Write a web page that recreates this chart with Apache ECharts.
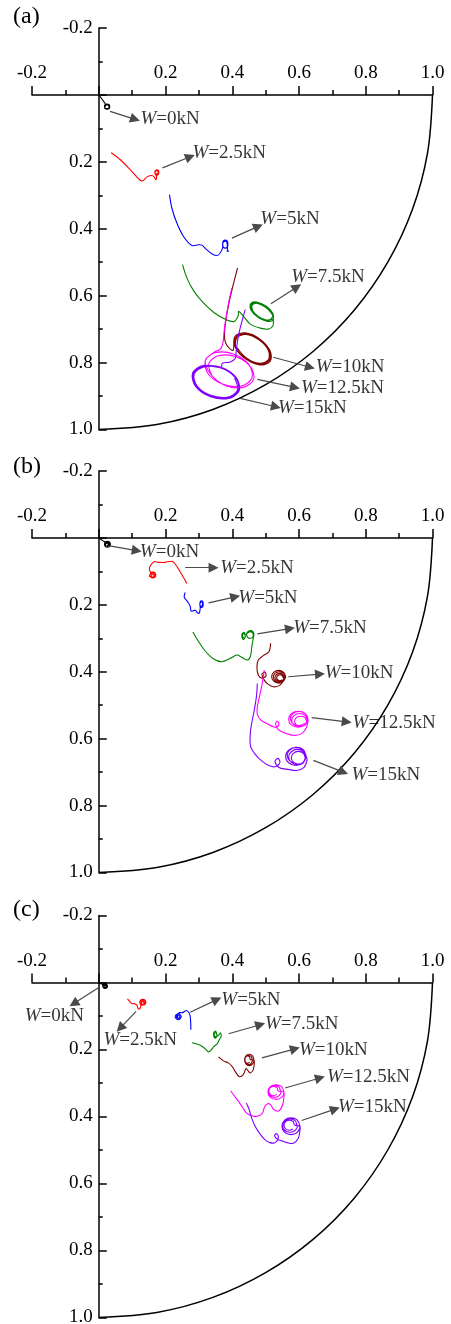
<!DOCTYPE html>
<html>
<head>
<meta charset="utf-8">
<script src="https://cdn.jsdelivr.net/npm/echarts@6/dist/echarts.min.js"></script>
<style>
  html, body { margin: 0; padding: 0; background: #fff; }
  #chart { width: 451px; height: 1324px; }
</style>
</head>
<body>
<div id="chart"></div>
<script>
// 载荷工况
const loads = ['0kN', '2.5kN', '5kN', '7.5kN', '10kN', '12.5kN', '15kN'];
const panelNames = ['(a)', '(b)', '(c)'];

// 单位圆弧（1/4）
const arc = [
  [1.000, 0.000], [0.985, 0.174], [0.940, 0.342], [0.866, 0.500], [0.766, 0.643],
  [0.643, 0.766], [0.500, 0.866], [0.342, 0.940], [0.174, 0.985], [0.000, 1.000]
];

// ---- (a) ----
const a_w0 = [
  [0.000, 0.000], [0.008, 0.010], [0.015, 0.020], [0.020, 0.028],
  [0.017, 0.035], [0.019, 0.041], [0.025, 0.043], [0.031, 0.041], [0.033, 0.035], [0.031, 0.029], [0.025, 0.027], [0.019, 0.029], [0.017, 0.035],
  [0.019, 0.039], [0.025, 0.041], [0.030, 0.039], [0.031, 0.035], [0.029, 0.031], [0.025, 0.029], [0.021, 0.031], [0.019, 0.035]
];
const a_w25 = [
  [0.037, 0.173], [0.064, 0.193], [0.094, 0.223], [0.124, 0.255], [0.133, 0.256], [0.145, 0.245], [0.159, 0.241],
  [0.166, 0.245], [0.171, 0.253], [0.173, 0.240],
  [0.168, 0.232], [0.170, 0.226], [0.174, 0.224], [0.179, 0.226], [0.180, 0.232], [0.178, 0.238], [0.174, 0.240], [0.170, 0.238],
  [0.168, 0.232], [0.171, 0.228], [0.175, 0.227], [0.178, 0.231], [0.176, 0.236], [0.172, 0.235]
];
const a_w5 = [
  [0.212, 0.298], [0.219, 0.338], [0.234, 0.383], [0.254, 0.423], [0.279, 0.450], [0.299, 0.448], [0.309, 0.449],
  [0.324, 0.463], [0.344, 0.478], [0.359, 0.478], [0.369, 0.463], [0.372, 0.450],
  [0.371, 0.446], [0.373, 0.437], [0.379, 0.434], [0.385, 0.437], [0.387, 0.446], [0.385, 0.455], [0.379, 0.458], [0.373, 0.455],
  [0.371, 0.446], [0.374, 0.439], [0.380, 0.437], [0.384, 0.441], [0.385, 0.450], [0.386, 0.462], [0.388, 0.468], [0.383, 0.466]
];
const a_w75 = [
  [0.251, 0.507], [0.265, 0.549], [0.286, 0.588], [0.313, 0.621], [0.346, 0.651], [0.382, 0.672], [0.406, 0.677],
  [0.418, 0.660], [0.419, 0.647], [0.434, 0.662], [0.454, 0.685], [0.484, 0.697], [0.508, 0.700], [0.522, 0.690],
  [0.523, 0.672], [0.522, 0.653], [0.501, 0.631], [0.473, 0.619], [0.455, 0.624], [0.456, 0.643], [0.477, 0.665], [0.505, 0.677], [0.523, 0.672],
  [0.517, 0.652], [0.499, 0.634], [0.476, 0.623], [0.460, 0.628], [0.461, 0.644], [0.479, 0.663], [0.502, 0.673], [0.518, 0.668],
  [0.520, 0.653], [0.500, 0.632], [0.474, 0.621], [0.457, 0.626], [0.458, 0.643], [0.478, 0.664], [0.504, 0.675], [0.521, 0.670]
];
const a_w10 = [
  [0.416, 0.517], [0.403, 0.567], [0.391, 0.618], [0.382, 0.666], [0.377, 0.708], [0.379, 0.738], [0.391, 0.757], [0.403, 0.763],
  [0.408, 0.722], [0.439, 0.711], [0.482, 0.729], [0.513, 0.764], [0.514, 0.796], [0.483, 0.807], [0.440, 0.789], [0.409, 0.754],
  [0.411, 0.724], [0.440, 0.714], [0.481, 0.730], [0.511, 0.763], [0.511, 0.794], [0.482, 0.804], [0.441, 0.788], [0.411, 0.755],
  [0.414, 0.726], [0.441, 0.716], [0.480, 0.732], [0.508, 0.763], [0.508, 0.792], [0.481, 0.802], [0.442, 0.786], [0.414, 0.755]
];
const a_w125 = [
  [0.399, 0.577], [0.389, 0.622], [0.382, 0.662], [0.376, 0.703], [0.372, 0.742], [0.365, 0.759], [0.343, 0.771],
  [0.319, 0.794], [0.328, 0.834], [0.373, 0.865], [0.427, 0.870], [0.459, 0.846], [0.450, 0.806], [0.405, 0.775], [0.351, 0.770], [0.319, 0.794],
  [0.339, 0.839], [0.381, 0.869], [0.433, 0.874], [0.464, 0.850], [0.455, 0.813], [0.413, 0.783], [0.361, 0.779], [0.330, 0.802], [0.339, 0.839]
];
const a_w15 = [
  [0.439, 0.642], [0.429, 0.677], [0.419, 0.717], [0.412, 0.763], [0.409, 0.787], [0.394, 0.798], [0.370, 0.802],
  [0.367, 0.814], [0.312, 0.809], [0.281, 0.832], [0.290, 0.871], [0.335, 0.902], [0.390, 0.907], [0.421, 0.884], [0.412, 0.845], [0.367, 0.814],
  [0.314, 0.811], [0.283, 0.833], [0.292, 0.870], [0.336, 0.900], [0.388, 0.905], [0.419, 0.883], [0.410, 0.846], [0.366, 0.816],
  [0.316, 0.813], [0.286, 0.834], [0.295, 0.870], [0.336, 0.898], [0.387, 0.903], [0.416, 0.882], [0.407, 0.846]
];

// ---- (b) ----
const b_w0 = [
  [0.000, 0.000], [0.006, 0.004], [0.012, 0.008], [0.018, 0.012],
  [0.017, 0.019], [0.020, 0.012], [0.026, 0.010], [0.032, 0.012], [0.035, 0.019], [0.032, 0.026], [0.026, 0.028], [0.020, 0.026], [0.017, 0.019],
  [0.020, 0.015], [0.026, 0.013], [0.031, 0.015], [0.032, 0.019], [0.030, 0.023], [0.026, 0.025], [0.021, 0.023], [0.020, 0.019],
  [0.023, 0.017], [0.026, 0.016], [0.029, 0.018], [0.028, 0.021], [0.025, 0.022]
];
const b_w25 = [
  [0.264, 0.136], [0.244, 0.101], [0.229, 0.078], [0.220, 0.070], [0.199, 0.073], [0.178, 0.073], [0.166, 0.071],
  [0.154, 0.084], [0.152, 0.096], [0.156, 0.104],
  [0.153, 0.111], [0.156, 0.104], [0.162, 0.102], [0.168, 0.104], [0.171, 0.111], [0.168, 0.118], [0.162, 0.120], [0.156, 0.118],
  [0.153, 0.111], [0.157, 0.107], [0.162, 0.105], [0.167, 0.108], [0.168, 0.112], [0.165, 0.116], [0.160, 0.117], [0.157, 0.114],
  [0.160, 0.109], [0.164, 0.110], [0.163, 0.113]
];
const b_w5 = [
  [0.259, 0.163], [0.256, 0.177], [0.265, 0.189], [0.274, 0.204], [0.277, 0.219], [0.289, 0.216], [0.295, 0.223],
  [0.301, 0.225], [0.304, 0.210],
  [0.303, 0.198], [0.304, 0.191], [0.308, 0.188], [0.312, 0.191], [0.313, 0.198], [0.312, 0.205], [0.308, 0.208], [0.304, 0.205],
  [0.303, 0.198], [0.306, 0.192], [0.310, 0.192], [0.311, 0.199], [0.309, 0.204], [0.306, 0.202]
];
const b_w75 = [
  [0.282, 0.281], [0.298, 0.308], [0.319, 0.338], [0.343, 0.361], [0.369, 0.370], [0.394, 0.360], [0.414, 0.350],
  [0.427, 0.356], [0.444, 0.365], [0.454, 0.355], [0.459, 0.323], [0.463, 0.299],
  [0.465, 0.289], [0.462, 0.280], [0.454, 0.277], [0.446, 0.281], [0.443, 0.289], [0.447, 0.298], [0.455, 0.300], [0.462, 0.296],
  [0.462, 0.286], [0.454, 0.280], [0.446, 0.284],
  [0.438, 0.290], [0.437, 0.283], [0.433, 0.283], [0.429, 0.288], [0.429, 0.296], [0.432, 0.303], [0.436, 0.302], [0.439, 0.295],
  [0.437, 0.287], [0.433, 0.286], [0.431, 0.292], [0.433, 0.299], [0.436, 0.297]
];
const b_w10 = [
  [0.515, 0.315], [0.510, 0.340], [0.493, 0.352], [0.478, 0.365], [0.474, 0.386], [0.478, 0.410], [0.489, 0.419],
  [0.501, 0.413], [0.498, 0.401], [0.489, 0.407], [0.496, 0.425], [0.507, 0.437], [0.523, 0.445], [0.543, 0.440], [0.558, 0.420],
  [0.560, 0.415], [0.554, 0.402], [0.539, 0.396], [0.524, 0.402], [0.518, 0.415], [0.524, 0.428], [0.539, 0.434], [0.554, 0.428], [0.560, 0.415],
  [0.559, 0.416], [0.554, 0.405], [0.541, 0.400], [0.528, 0.405], [0.523, 0.416], [0.528, 0.427], [0.541, 0.432], [0.554, 0.427], [0.559, 0.416],
  [0.556, 0.417], [0.552, 0.409], [0.542, 0.405], [0.532, 0.409], [0.528, 0.417], [0.532, 0.425], [0.542, 0.429], [0.552, 0.425], [0.556, 0.417],
  [0.553, 0.418], [0.550, 0.412], [0.543, 0.409], [0.536, 0.412], [0.533, 0.418], [0.536, 0.424], [0.543, 0.427], [0.550, 0.424]
];
const b_w125 = [
  [0.496, 0.395], [0.490, 0.434], [0.482, 0.473], [0.475, 0.506], [0.475, 0.527], [0.484, 0.543], [0.504, 0.555],
  [0.522, 0.564], [0.534, 0.566], [0.540, 0.554], [0.534, 0.548], [0.530, 0.557], [0.537, 0.572], [0.555, 0.582],
  [0.584, 0.590], [0.608, 0.585], [0.623, 0.565],
  [0.627, 0.542], [0.619, 0.525], [0.598, 0.518], [0.577, 0.525], [0.569, 0.542], [0.577, 0.559], [0.598, 0.566], [0.619, 0.559], [0.627, 0.542],
  [0.626, 0.545], [0.619, 0.531], [0.602, 0.525], [0.585, 0.531], [0.578, 0.545], [0.585, 0.559], [0.602, 0.565], [0.619, 0.559], [0.626, 0.545],
  [0.623, 0.548], [0.618, 0.537], [0.605, 0.533], [0.592, 0.537], [0.587, 0.548], [0.592, 0.559], [0.605, 0.563], [0.618, 0.559], [0.623, 0.548],
  [0.626, 0.540], [0.618, 0.525], [0.600, 0.519], [0.582, 0.525], [0.574, 0.540], [0.582, 0.555], [0.600, 0.561], [0.618, 0.555]
];
const b_w15 = [
  [0.475, 0.435], [0.473, 0.470], [0.467, 0.509], [0.460, 0.545], [0.454, 0.584], [0.455, 0.623], [0.469, 0.647],
  [0.490, 0.668], [0.513, 0.682], [0.531, 0.683], [0.543, 0.671], [0.537, 0.659], [0.528, 0.668], [0.540, 0.686],
  [0.563, 0.691], [0.593, 0.695], [0.615, 0.686], [0.624, 0.665],
  [0.622, 0.653], [0.613, 0.634], [0.591, 0.626], [0.569, 0.634], [0.560, 0.653], [0.569, 0.672], [0.591, 0.680], [0.613, 0.672], [0.622, 0.653],
  [0.621, 0.655], [0.613, 0.639], [0.595, 0.632], [0.577, 0.639], [0.569, 0.655], [0.577, 0.671], [0.595, 0.678], [0.613, 0.671], [0.621, 0.655],
  [0.619, 0.657], [0.613, 0.644], [0.598, 0.638], [0.583, 0.644], [0.577, 0.657], [0.583, 0.670], [0.598, 0.676], [0.613, 0.670], [0.619, 0.657],
  [0.621, 0.650], [0.613, 0.633], [0.593, 0.626], [0.573, 0.633], [0.565, 0.650], [0.573, 0.667], [0.593, 0.674]
];

// ---- (c) ----
const c_w0 = [
  [0.000, 0.000], [0.005, 0.003], [0.011, 0.006],
  [0.012, 0.011], [0.014, 0.006], [0.019, 0.004], [0.024, 0.006], [0.026, 0.011], [0.024, 0.016], [0.019, 0.018], [0.014, 0.016],
  [0.012, 0.011], [0.015, 0.008], [0.019, 0.007], [0.023, 0.009], [0.023, 0.013], [0.019, 0.015], [0.016, 0.013], [0.018, 0.010], [0.021, 0.011]
];
const c_w25 = [
  [0.086, 0.049], [0.099, 0.063], [0.106, 0.063], [0.114, 0.067], [0.118, 0.078], [0.123, 0.079], [0.126, 0.069], [0.128, 0.062],
  [0.123, 0.059], [0.126, 0.052], [0.132, 0.050], [0.138, 0.052], [0.141, 0.059], [0.138, 0.066], [0.132, 0.068], [0.126, 0.066],
  [0.123, 0.059], [0.127, 0.055], [0.132, 0.053], [0.137, 0.056], [0.137, 0.062], [0.132, 0.065], [0.128, 0.062], [0.130, 0.057],
  [0.134, 0.058], [0.133, 0.061]
];
const c_w5 = [
  [0.276, 0.141], [0.275, 0.111], [0.272, 0.093], [0.264, 0.084], [0.259, 0.085], [0.251, 0.090], [0.242, 0.090],
  [0.238, 0.093], [0.232, 0.096], [0.229, 0.102], [0.232, 0.108], [0.238, 0.111], [0.244, 0.108], [0.247, 0.102], [0.244, 0.096],
  [0.238, 0.093], [0.234, 0.098], [0.233, 0.103], [0.237, 0.107], [0.242, 0.106], [0.243, 0.101], [0.239, 0.098], [0.236, 0.102], [0.239, 0.104]
];
const c_w75 = [
  [0.279, 0.180], [0.292, 0.183], [0.307, 0.189], [0.319, 0.198], [0.329, 0.207], [0.337, 0.201], [0.344, 0.192],
  [0.355, 0.183], [0.361, 0.171], [0.367, 0.160], [0.364, 0.150], [0.358, 0.159],
  [0.354, 0.156], [0.352, 0.148], [0.349, 0.146], [0.345, 0.149], [0.344, 0.156], [0.346, 0.164], [0.349, 0.166], [0.353, 0.163],
  [0.354, 0.156], [0.351, 0.150], [0.347, 0.151], [0.346, 0.158], [0.349, 0.163], [0.352, 0.160]
];
const c_w10 = [
  [0.359, 0.222], [0.374, 0.234], [0.388, 0.240], [0.400, 0.251], [0.409, 0.266], [0.421, 0.281], [0.433, 0.275],
  [0.441, 0.257], [0.447, 0.263], [0.454, 0.270], [0.463, 0.260], [0.466, 0.242],
  [0.465, 0.231], [0.461, 0.219], [0.451, 0.214], [0.441, 0.219], [0.437, 0.231], [0.441, 0.243], [0.451, 0.248], [0.461, 0.243], [0.465, 0.231],
  [0.460, 0.231], [0.457, 0.221], [0.449, 0.217], [0.441, 0.221], [0.438, 0.231], [0.441, 0.241], [0.449, 0.245], [0.457, 0.241], [0.460, 0.231],
  [0.454, 0.230], [0.452, 0.222], [0.446, 0.219], [0.440, 0.222], [0.438, 0.230], [0.440, 0.238], [0.446, 0.241], [0.452, 0.238]
];
const c_w125 = [
  [0.395, 0.323], [0.406, 0.338], [0.419, 0.355], [0.431, 0.373], [0.443, 0.390], [0.463, 0.399], [0.480, 0.398],
  [0.491, 0.389], [0.497, 0.371], [0.506, 0.362], [0.515, 0.365], [0.524, 0.379], [0.540, 0.383], [0.551, 0.365], [0.555, 0.341],
  [0.555, 0.327], [0.548, 0.311], [0.531, 0.305], [0.514, 0.311], [0.507, 0.327], [0.514, 0.343], [0.531, 0.349], [0.548, 0.343], [0.555, 0.327],
  [0.546, 0.325], [0.540, 0.312], [0.527, 0.307], [0.514, 0.312], [0.508, 0.325], [0.514, 0.338], [0.527, 0.343], [0.540, 0.338], [0.546, 0.325],
  [0.538, 0.324], [0.534, 0.314], [0.524, 0.310], [0.514, 0.314], [0.510, 0.324], [0.514, 0.334], [0.524, 0.338], [0.534, 0.334]
];
const c_w15 = [
  [0.442, 0.360], [0.451, 0.380], [0.458, 0.404], [0.469, 0.430], [0.479, 0.446], [0.490, 0.461], [0.501, 0.472],
  [0.513, 0.478], [0.525, 0.479], [0.536, 0.470], [0.538, 0.458], [0.531, 0.451], [0.527, 0.458], [0.534, 0.467],
  [0.546, 0.472], [0.564, 0.478], [0.583, 0.480], [0.598, 0.465], [0.603, 0.440],
  [0.603, 0.429], [0.595, 0.411], [0.576, 0.404], [0.557, 0.411], [0.549, 0.429], [0.557, 0.447], [0.576, 0.454], [0.595, 0.447], [0.603, 0.429],
  [0.595, 0.427], [0.589, 0.413], [0.573, 0.407], [0.557, 0.413], [0.551, 0.427], [0.557, 0.441], [0.573, 0.447], [0.589, 0.441], [0.595, 0.427],
  [0.587, 0.426], [0.582, 0.415], [0.571, 0.411], [0.560, 0.415], [0.555, 0.426], [0.560, 0.437], [0.571, 0.441], [0.582, 0.437]
];

// 标注箭头 [x1, y1, x2, y2] 与文字中心
const arrowsA = [
  [0.034, 0.049, 0.109, 0.073], [0.191, 0.218, 0.274, 0.185], [0.399, 0.428, 0.478, 0.393], [0.516, 0.624, 0.594, 0.574],
  [0.523, 0.784, 0.633, 0.814], [0.475, 0.850, 0.588, 0.874], [0.424, 0.907, 0.531, 0.932]
];
const arrowsB = [
  [0.032, 0.024, 0.114, 0.038], [0.259, 0.089, 0.344, 0.089], [0.329, 0.194, 0.409, 0.176], [0.475, 0.287, 0.573, 0.271],
  [0.568, 0.415, 0.663, 0.407], [0.638, 0.537, 0.743, 0.550], [0.643, 0.665, 0.733, 0.700]
];
const arrowsC = [
  [-0.001, 0.016, -0.075, 0.063], [0.112, 0.086, 0.064, 0.136], [0.274, 0.089, 0.354, 0.051], [0.389, 0.153, 0.484, 0.126],
  [0.489, 0.225, 0.588, 0.198], [0.558, 0.315, 0.663, 0.285], [0.608, 0.412, 0.708, 0.378]
];
const labelsA = [[0.214, 0.073], [0.391, 0.173], [0.573, 0.371], [0.687, 0.543], [0.753, 0.814], [0.730, 0.877], [0.640, 0.937]];
const labelsB = [[0.212, 0.041], [0.474, 0.089], [0.507, 0.180], [0.693, 0.270], [0.780, 0.403], [0.885, 0.554], [0.860, 0.710]];
const labelsC = [[-0.133, 0.099], [0.124, 0.171], [0.456, 0.053], [0.608, 0.124], [0.703, 0.201], [0.808, 0.281], [0.820, 0.371]];

const panels = [
  { traj: [a_w0, a_w25, a_w5, a_w75, a_w10, a_w125, a_w15], arrows: arrowsA, labels: labelsA },
  { traj: [b_w0, b_w25, b_w5, b_w75, b_w10, b_w125, b_w15], arrows: arrowsB, labels: labelsB },
  { traj: [c_w0, c_w25, c_w5, c_w75, c_w10, c_w125, c_w15], arrows: arrowsC, labels: labelsC }
];

const colors = ['#000000', '#ff0000', '#0000ff', '#008000', '#800000', '#ff00ff', '#8000ff'];
const gridBoxes = [
  { left: 32, top: 28, width: 400.5, height: 401.5 },
  { left: 32, top: 471, width: 400.5, height: 401.5 },
  { left: 32, top: 915.5, width: 400.5, height: 402 }
];
const panelLabelY = [17, 467, 910];
const FONT = '"Liberation Serif", "Times New Roman", serif';

const chart = echarts.init(document.getElementById('chart'), null, { renderer: 'canvas' });

function tickFmt(v) {
  if (Math.abs(v) < 1e-9) return '';
  return v.toFixed(1);
}

// 平滑曲线：整条轨迹作为一个 polyline，通过坐标轴换算
function curveSeries(k, d, color, width) {
  return {
    type: 'custom', xAxisIndex: k, yAxisIndex: k, data: d, silent: true, clip: false,
    encode: { x: 0, y: 1 },
    renderItem: (params, api) => {
      if (params.dataIndex !== 0) return null;
      const pts = d.map(p => api.coord(p));
      return {
        type: 'polyline',
        shape: { points: pts, smooth: 0.33 },
        style: { stroke: color, lineWidth: width, fill: null }
      };
    }
  };
}

const grid = [], xAxis = [], yAxis = [], series = [], graphic = [];

panels.forEach((p, k) => {
  const g = gridBoxes[k];
  grid.push(Object.assign({ containLabel: false, outerBoundsMode: 'none' }, g));
  xAxis.push({
    type: 'value', gridIndex: k, position: 'top', offset: -g.height / 6,
    min: -0.2, max: 1.0, interval: 0.2,
    axisLine: { show: true, onZero: false, lineStyle: { color: '#000', width: 1.5 } },
    axisTick: { show: true, inside: false, length: 9, lineStyle: { color: '#000', width: 1.5 } },
    minorTick: { show: true, splitNumber: 2, length: 5, lineStyle: { color: '#000', width: 1.5 } },
    splitLine: { show: false },
    axisLabel: { show: true, margin: 12, color: '#000', fontSize: 19, fontFamily: FONT, formatter: tickFmt, showMinLabel: true, showMaxLabel: true, hideOverlap: false }
  });
  yAxis.push({
    type: 'value', gridIndex: k, position: 'left', inverse: true, offset: -g.width / 6,
    min: -0.2, max: 1.0, interval: 0.2,
    axisLine: { show: true, onZero: false, lineStyle: { color: '#000', width: 1.5 } },
    axisTick: { show: true, inside: true, length: 8, lineStyle: { color: '#000', width: 1.5 } },
    minorTick: { show: true, splitNumber: 2, length: 4, lineStyle: { color: '#000', width: 1.5 } },
    splitLine: { show: false },
    axisLabel: { show: true, margin: 6, color: '#000', fontSize: 19, fontFamily: FONT, formatter: tickFmt, showMinLabel: true, showMaxLabel: true, hideOverlap: false }
  });

  // 边界圆弧
  series.push(curveSeries(k, arc, '#000', 1.5));

  // 轨迹
  p.traj.forEach((d, i) => series.push(curveSeries(k, d, colors[i], 1.1)));

  // 箭头
  series.push({
    type: 'lines', coordinateSystem: 'cartesian2d', xAxisIndex: k, yAxisIndex: k,
    symbol: ['none', 'triangle'], symbolSize: 10, silent: true,
    lineStyle: { color: '#4a4a4a', width: 1.2, opacity: 1 },
    itemStyle: { color: '#4a4a4a' },
    data: p.arrows.map(a => ({ coords: [[a[0], a[1]], [a[2], a[3]]] }))
  });

  // 文字
  series.push({
    type: 'scatter', xAxisIndex: k, yAxisIndex: k, symbolSize: 0, silent: true, z: 10,
    data: p.labels.map((pt, i) => ({ value: pt, name: loads[i] })),
    label: {
      show: true, position: 'inside', color: '#000', fontSize: 19, fontFamily: FONT,
      formatter: prm => '{i|W}=' + prm.name,
      rich: { i: { fontStyle: 'italic', fontSize: 19, fontFamily: FONT, color: '#000' } }
    }
  });

  graphic.push({
    type: 'text', x: 13, y: panelLabelY[k],
    style: { text: panelNames[k], font: '24px ' + FONT, fill: '#000', verticalAlign: 'middle' }
  });
});

chart.setOption({
  animation: false,
  backgroundColor: '#fff',
  grid, xAxis, yAxis, series, graphic
});
</script>
</body>
</html>
